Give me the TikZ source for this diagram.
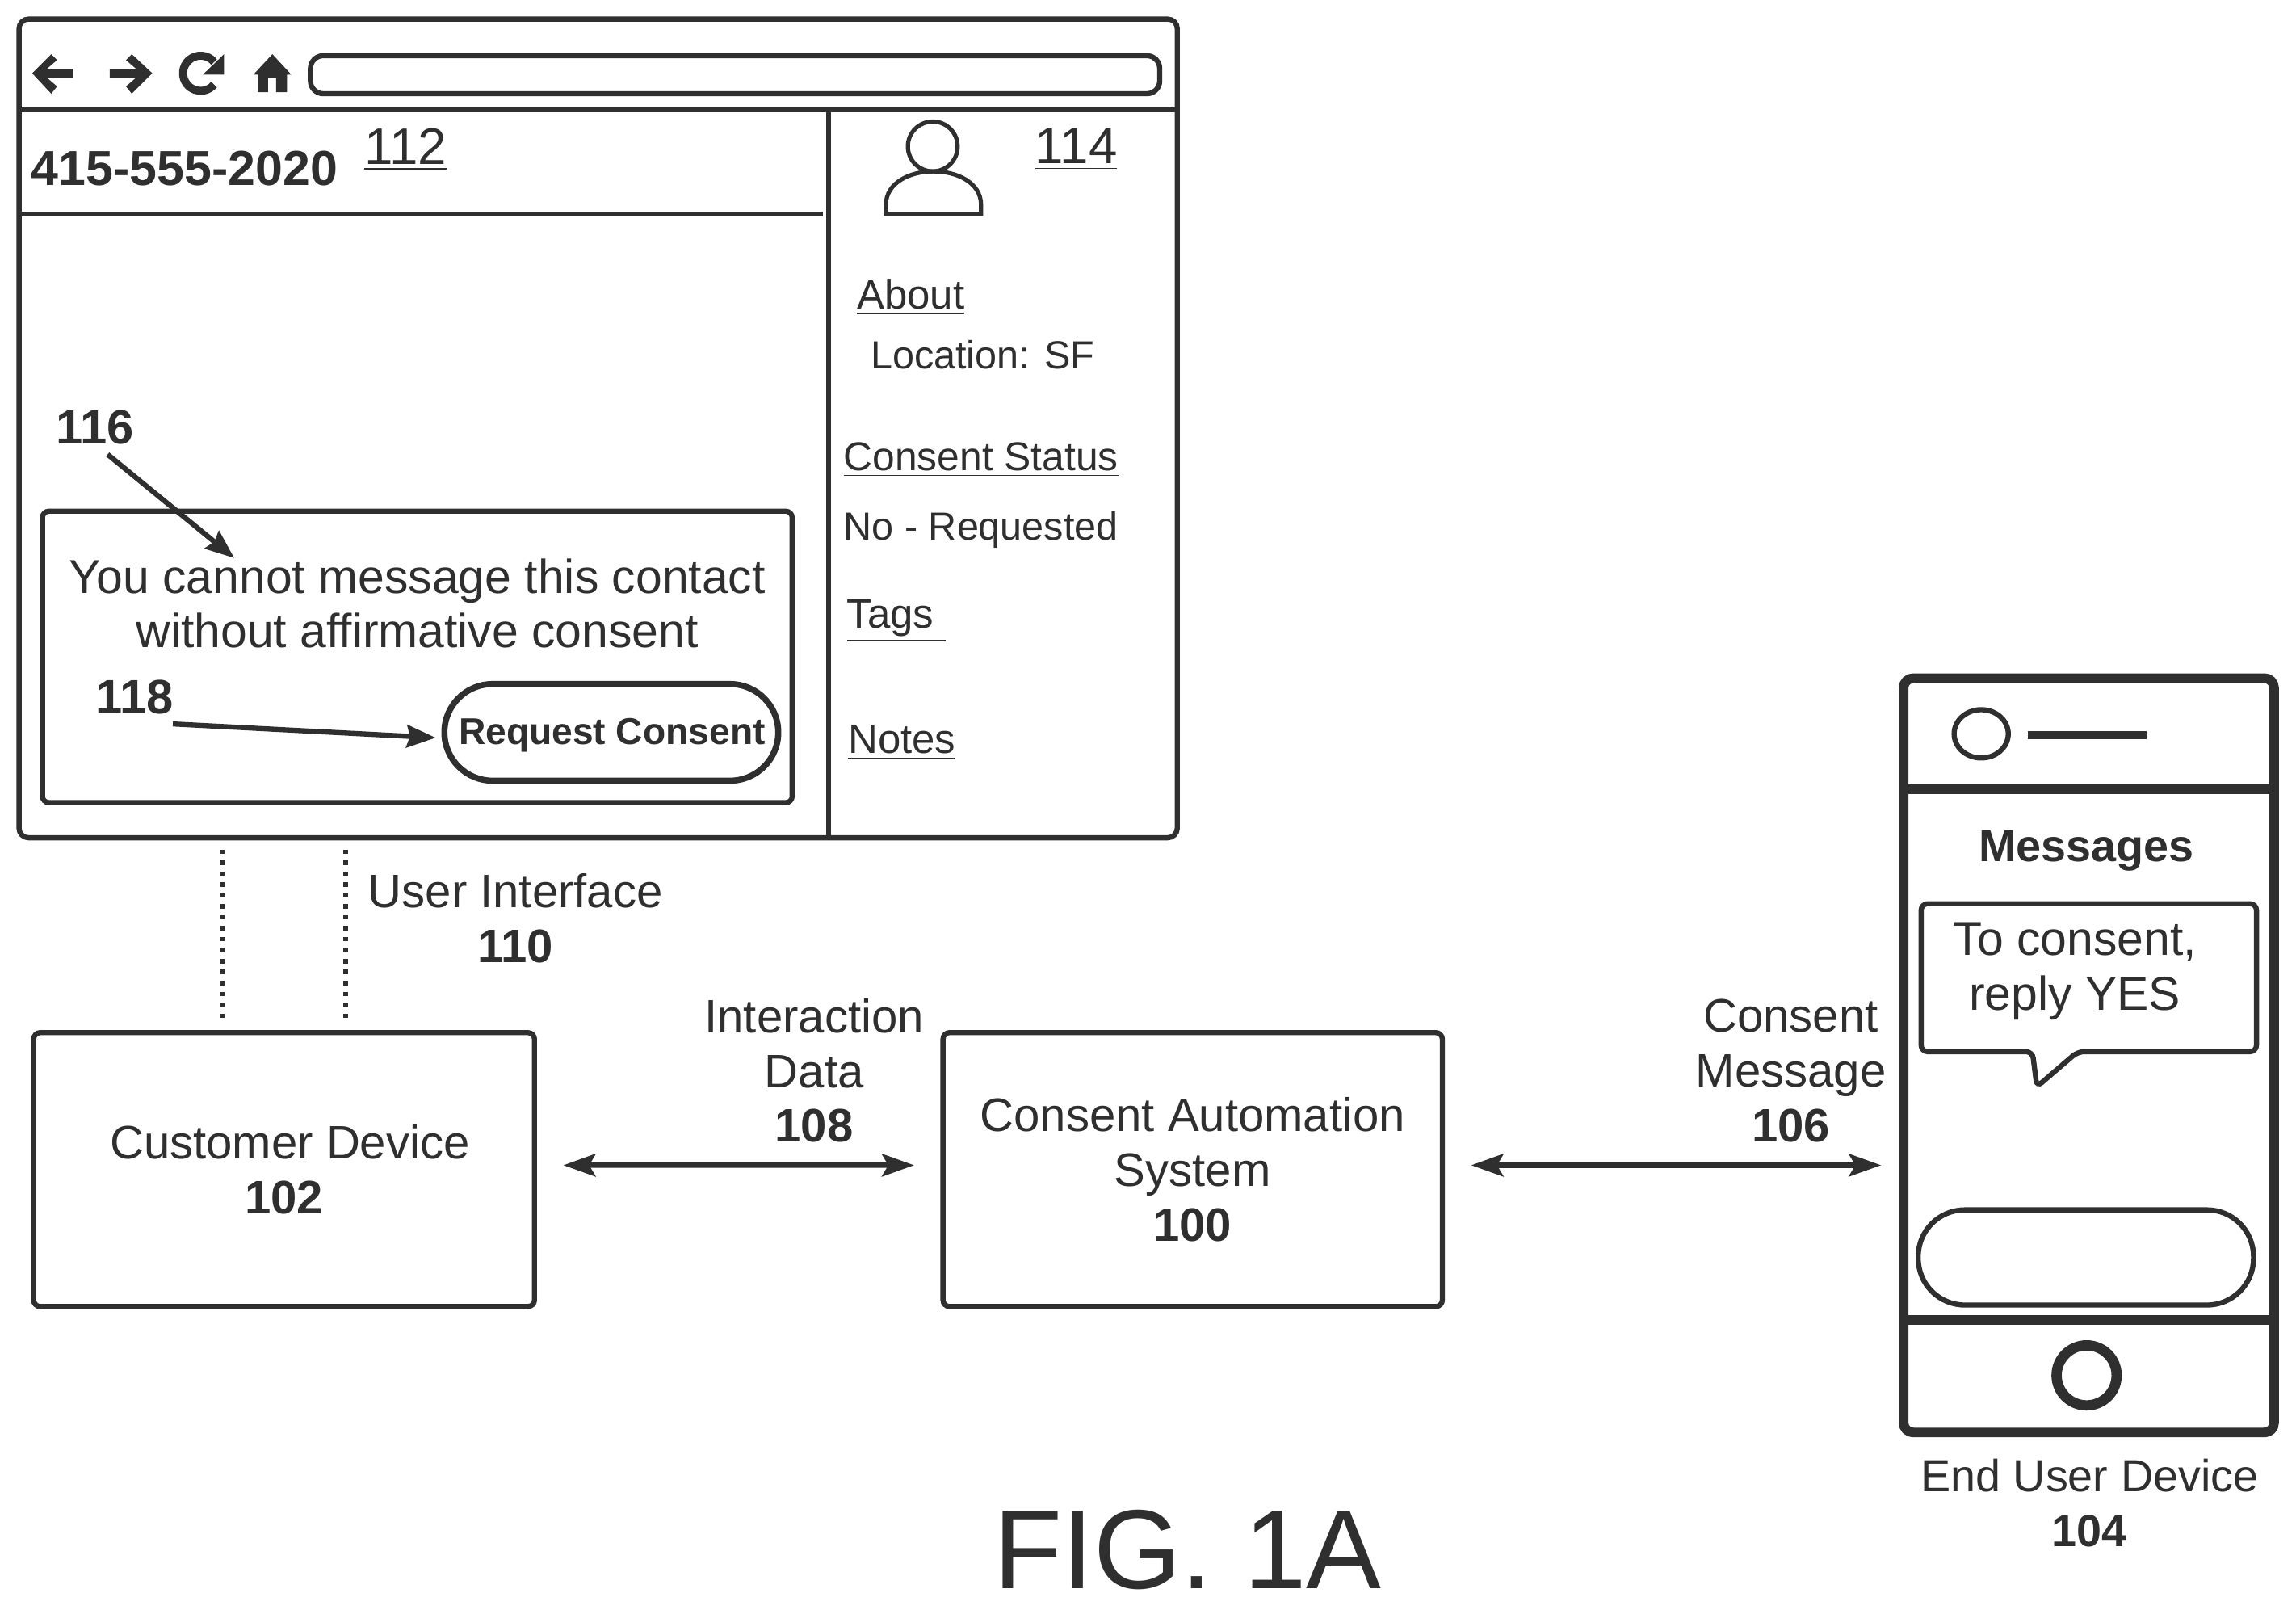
\documentclass[tikz,border=0pt]{standalone}
\usepackage{fontspec}
\setmainfont{Liberation Sans}
\usetikzlibrary{arrows.meta,positioning,shapes.geometric}

\definecolor{ink}{HTML}{2F2F2F}
\newcommand{\du}{0.4556pt}
\newcommand{\bodyfont}{\fontsize{14.6}{17}\selectfont}
\newcommand{\sidefont}{\fontsize{12.2}{15}\selectfont}

\begin{document}
\begin{tikzpicture}[x=\du,y=\du,yscale=-1,semithick,
                    every node/.style={text=ink,inner sep=0pt,outer sep=0pt}]

  \tikzstyle{panel} = [draw=ink,line width=1.6pt,rounded corners=2pt]
  \tikzstyle{device} = [draw=ink,line width=3pt,rounded corners=3pt]
  \tikzstyle{label} = [font=\bodyfont,align=center]
  \tikzstyle{sidetext} = [font=\sidefont]
  \tikzstyle{sidehead} = [font=\fontsize{12.8}{15}\selectfont]
  \tikzstyle{refnum} = [font=\fontsize{15}{17}\selectfont\bfseries]
  \tikzstyle{reftag} = [font=\fontsize{16}{18}\selectfont]
  \tikzstyle{link} = [{Stealth[length=10pt,width=7pt,inset=2pt]}-{Stealth[length=10pt,width=7pt,inset=2pt]},draw=ink,line width=1.6pt,shorten <=9pt,shorten >=9pt]
  \tikzstyle{pointer} = [-{Stealth[length=9pt,width=7pt,inset=1pt]},draw=ink,line width=1.6pt]
  \tikzstyle{tether} = [draw=ink,dotted,line width=1.4pt]
  \tikzstyle{glyph} = [fill=ink,draw=none]

  \useasboundingbox (0,0) rectangle (1568,1099.2);

  \node[panel,rounded corners=3pt,minimum width=791*\du,minimum height=559*\du] (browser) at (408.5,292.5) {};
  \node[panel,minimum width=580*\du,minimum height=26*\du,rounded corners=4pt] (urlbar) at (502,51) {};
  \draw[panel] (browser.west |- 0,75) -- (browser.east |- 0,75);
  \draw[panel] (browser.west |- 0,146) -- (562,146);
  \draw[panel] (566,75) -- (566,572);

  \fill[glyph] (22,50) -- (35,37) -- (39,41) -- (32,47) -- (50,47) -- (50,53) -- (32,53) -- (39,59) -- (35,64) -- cycle;
  \fill[glyph] (104,50) -- (90,37) -- (86,41) -- (93,47) -- (75,47) -- (75,53) -- (93,53) -- (86,59) -- (90,64) -- cycle;
  \draw[draw=ink,line width=2.5pt] (146.2,42.3) arc (-40:-320:12);
  \fill[glyph] (153,37) -- (153,51) -- (138.5,51) -- cycle;
  \fill[glyph] (186,37) -- (199,51) -- (196,51) -- (196,63) -- (188.5,63) -- (188.5,53) -- (183,53) -- (183,63) -- (176,63) -- (176,51) -- (173,51) -- cycle;

  \node[refnum,font=\fontsize{15.3}{17}\selectfont\bfseries] (phonenum) at (126,115) {415-555-2020};
  \node[reftag] (n112) at (277,102) {\underline{112}};
  \node[reftag] (n114) at (735,102) {\underline{114}};

  \node[draw=ink,line width=1.3pt,circle,minimum size=34*\du] (head) at (637,100) {};
  \draw[draw=ink,line width=1.3pt] (605,146) -- (670,146) -- (670,140) to[out=-90,in=0] (637.5,117) to[out=180,in=-90] (605,140) -- cycle;

  \node[sidehead] (about) at (622,203) {\underline{About}};
  \node[sidetext] (location) at (671,242) {Location: SF};
  \node[sidehead,font=\fontsize{12.5}{15}\selectfont] (status) at (670,314) {\underline{Consent Status}};
  \node[sidetext] (requested) at (670,362) {No - Requested};
  \node[sidehead] (tags) at (612,424) {\underline{Tags\ }};
  \node[sidehead] (notes) at (616,507) {\underline{Notes}};

  \node[panel,minimum width=512*\du,minimum height=199*\du] (notice) at (285,448.5) {};
  \node[label,font=\fontsize{14.8}{17}\selectfont] (noticetext) at (285,412) {You cannot message this contact\\without affirmative consent};
  \node[panel,line width=1.9pt,rounded corners=15pt,minimum width=228*\du,minimum height=66*\du] (request) at (417.5,500) {};
  \node[font=\fontsize{11.6}{14}\selectfont\bfseries] (requesttext) at (418,502) {Request Consent};

  \node[refnum,inner sep=3pt] (n116) at (65,292) {116};
  \node[refnum,inner sep=3pt] (n118) at (92,476) {118};
  \coordinate (tip116) at (160,381);
  \draw[pointer] (n116.-65) -- (tip116);
  \draw[pointer,shorten >=2.7pt] (n118.-35) -- (request.182);

  \node[panel,label,minimum width=342*\du,minimum height=187*\du] (customer) at (194,798.5) {\hspace*{3.6pt}Customer Device\\\textbf{102}};
  \node[panel,label,minimum width=341*\du,minimum height=187*\du] (system) at (814.5,798.5) {Consent Automation\\System\\\textbf{100}};

  \node[device,minimum width=253*\du,minimum height=515*\du] (phone) at (1426.5,720.5) {};
  \draw[device] (phone.west |- 0,539) -- (phone.east |- 0,539);
  \draw[device] (phone.west |- 0,901) -- (phone.east |- 0,901);
  \node[draw=ink,line width=1.6pt,ellipse,minimum width=37*\du,minimum height=33*\du] (speaker) at (1353,501) {};
  \draw[draw=ink,line width=2.6pt] (1385,502) -- (1466,502);
  \node[font=\fontsize{14}{16}\selectfont\bfseries] (messages) at (1425,581) {Messages};
  \draw[panel] (1312,617) -- (1541,617) -- (1541,718) -- (1419,718) -- (1391,742) -- (1388,718) -- (1312,718) -- cycle;
  \node[label,font=\fontsize{14.8}{17}\selectfont] (bubbletext) at (1417,663) {To consent,\\reply YES};
  \node[panel,rounded corners=14.5pt,minimum width=229*\du,minimum height=65*\du] (reply) at (1424.5,858.5) {};
  \node[draw=ink,line width=3.2pt,circle,minimum size=41*\du] (homekey) at (1425,939) {};
  \node[label,font=\fontsize{14}{17}\selectfont] (phonelabel) at (1427,1026) {End User Device\\\textbf{104}};

  \node[label] (uilabel) at (352,627) {User Interface\\\textbf{110}};
  \node[label] (datalabel) at (556,731) {Interaction\\Data\\\textbf{108}};
  \node[label] (msglabel) at (1223,731) {Consent\\Message\\\textbf{106}};
  \node[font=\fontsize{35}{38}\selectfont] (figlabel) at (811,1058) {FIG. 1A};

  \coordinate (dotA) at (152,580);
  \coordinate (dotB) at (236,580);
  \draw[tether,shorten >=3.6pt] (dotA) -- (dotA |- customer.north);
  \draw[tether,shorten >=3.6pt] (dotB) -- (dotB |- customer.north);

  \draw[link] (customer.1) -- (system.179);
  \draw[link,shorten >=7pt] (system.1) -- (system.1 -| phone.west);
\end{tikzpicture}
\end{document}
